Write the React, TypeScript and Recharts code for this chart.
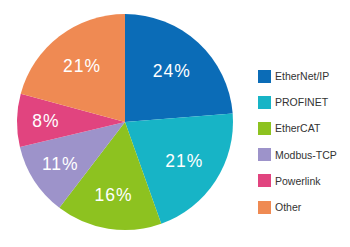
import { PieChart, Pie, Cell, Legend } from 'recharts';

const protocols = ['EtherNet/IP', 'PROFINET', 'EtherCAT', 'Modbus-TCP', 'Powerlink', 'Other'];
const shares = [24, 21, 16, 11, 8, 21];
const colors = ['#0b6cb7', '#17b4c6', '#8dc220', '#9d93ca', '#e1447f', '#ef8a53'];

const chartData = protocols.map((name, i) => ({ name, value: shares[i] }));

const RADIAN = Math.PI / 180;
const total = shares.reduce((a, b) => a + b, 0);

// label angle taken from the running share, clockwise from 12 o'clock;
// smaller slices get their label pushed a bit further out
function renderLabel({ cx, cy, outerRadius, index, value }: any) {
  const before = shares.slice(0, index).reduce((a, b) => a + b, 0);
  const p = value / total;
  const ang = ((before + value / 2) / total) * 360;
  const r = outerRadius * (0.78 - 0.6 * p);
  const x = cx + r * Math.sin(ang * RADIAN);
  const y = cy - r * Math.cos(ang * RADIAN);
  return (
    <text
      key={`lbl-${index}`}
      x={x}
      y={y}
      fill="#fff"
      textAnchor="middle"
      dominantBaseline="central"
      fontSize={17.5}
      fontWeight={500}
      letterSpacing={1}
      fontFamily="'Liberation Sans', Arial, sans-serif"
    >
      {`${value}%`}
    </text>
  );
}

function LegendList() {
  return (
    <div style={{ fontFamily: "'Liberation Sans', Arial, sans-serif", fontSize: 10.5, color: '#333' }}>
      {protocols.map((name, i) => (
        <div key={name} style={{ display: 'flex', alignItems: 'center', height: 26.2 }}>
          <span style={{ width: 13, height: 13, background: colors[i], display: 'inline-block', marginRight: 4 }} />
          <span>{name}</span>
        </div>
      ))}
    </div>
  );
}

export default function App() {
  return (
    <div style={{ position: 'absolute', left: 0, top: 0, width: 350, height: 247, background: '#fff' }}>
      <PieChart width={350} height={247} margin={{ top: 0, right: 0, bottom: 0, left: 0 }}>
        <Pie
          data={chartData}
          dataKey="value"
          nameKey="name"
          cx={125}
          cy={122}
          outerRadius={108}
          startAngle={90}
          endAngle={-270}
          stroke="none"
          label={renderLabel}
          labelLine={false}
          isAnimationActive={false}
        >
          {chartData.map((d, i) => (
            <Cell key={d.name} fill={colors[i]} />
          ))}
        </Pie>
        <Legend
          layout="vertical"
          content={() => <LegendList />}
          wrapperStyle={{ left: 258, top: 63, width: 92 }}
        />
      </PieChart>
    </div>
  );
}
